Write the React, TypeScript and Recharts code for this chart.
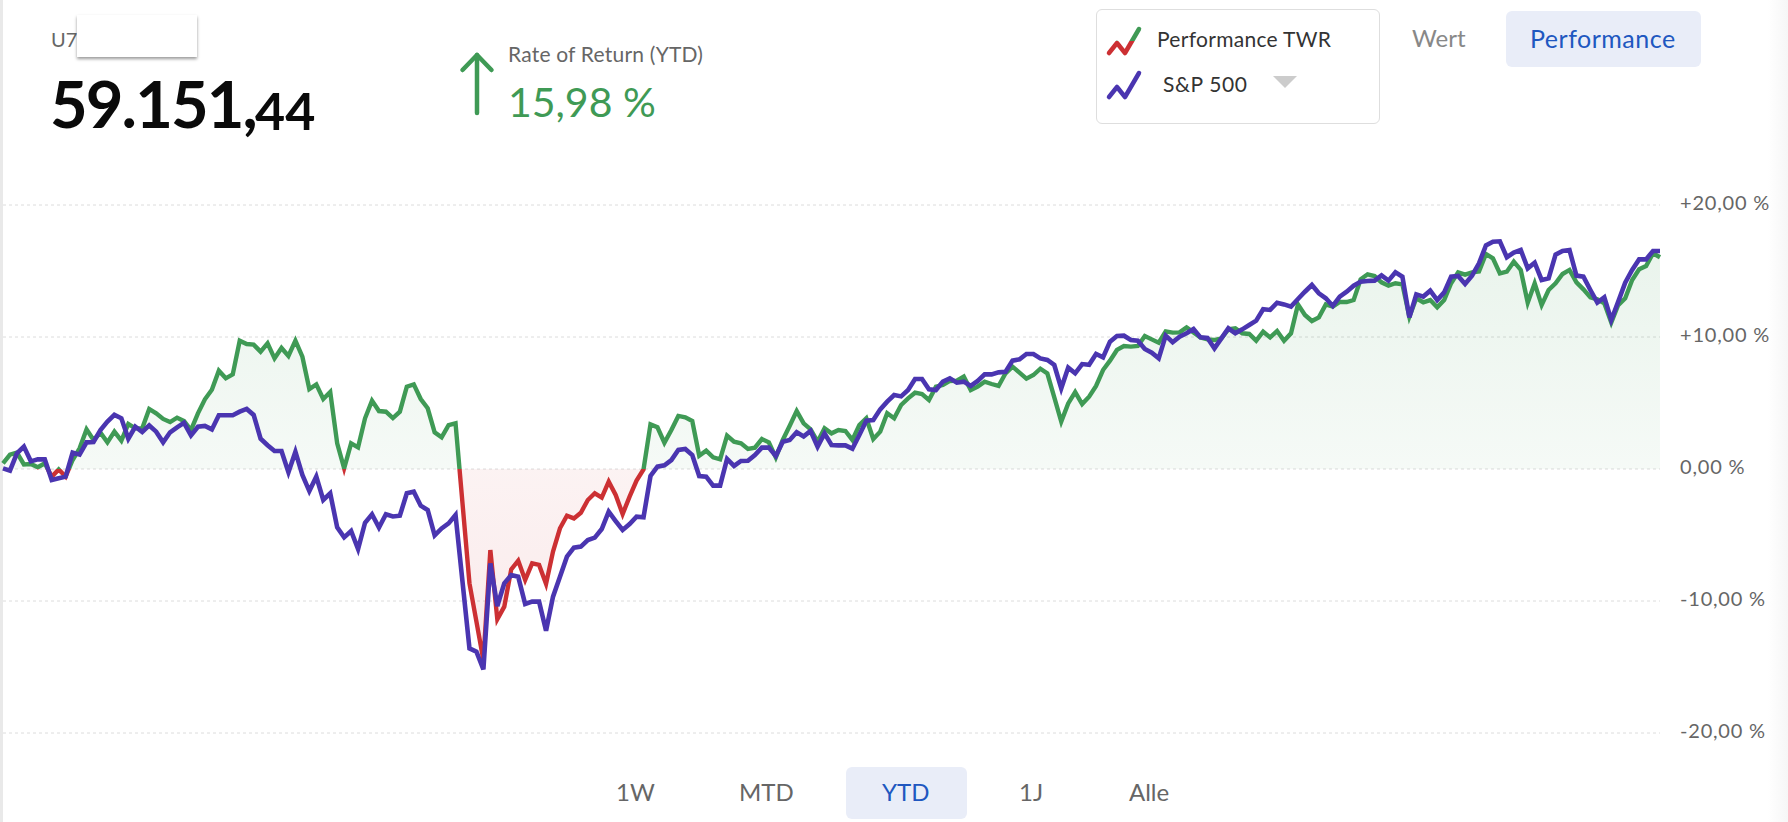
import { Area, CartesianGrid, ComposedChart, Line, XAxis, YAxis } from "recharts";

const twrValues = [
  0.43, 1.09, 1.24, 0.35, 0.38, 0.13, 0.43, -0.58, -0.03, -0.58,
  0.68, 1.57, 3.0, 2.2, 2.75, 2.02, 2.83, 2.15, 3.41, 3.08,
  3.08, 4.55, 4.22, 3.79, 3.56, 3.89, 3.64, 2.95, 4.22, 5.28,
  6.0, 7.45, 6.87, 7.17, 9.72, 9.47, 9.42, 8.89, 9.52, 8.38,
  9.17, 8.56, 9.72, 8.51, 6.06, 6.41, 5.3, 5.83, 1.94, 0.05,
  1.94, 1.64, 3.84, 5.18, 4.39, 4.34, 3.86, 4.34, 6.24, 6.41,
  5.3, 4.6, 2.78, 2.4, 3.33, 3.46, -2.6, -8.66, -11.57, -14.47,
  -6.14, -11.39, -10.43, -7.6, -6.94, -8.41, -7.15, -7.27, -8.71, -6.26,
  -4.49, -3.54, -3.74, -3.31, -2.35, -1.84, -2.17, -0.96, -1.97, -3.41,
  -2.1, -0.88, -0.03, 3.38, 3.16, 1.99, 2.95, 4.02, 3.91, 3.64,
  1.01, 1.39, 0.88, 0.73, 2.53, 2.07, 1.94, 1.52, 1.62, 2.27,
  2.02, 0.88, 2.2, 3.28, 4.39, 3.46, 3.0, 2.07, 3.08, 2.7,
  2.95, 2.88, 2.2, 3.33, 3.84, 2.27, 2.83, 4.22, 3.84, 4.85,
  5.35, 5.78, 5.68, 5.23, 6.24, 6.36, 6.67, 6.69, 7.0, 5.98,
  6.24, 6.62, 6.44, 6.29, 7.25, 7.75, 7.3, 6.84, 7.12, 7.6,
  7.25, 5.43, 3.59, 4.97, 5.83, 4.92, 5.48, 6.29, 7.5, 8.21,
  9.02, 9.32, 9.27, 9.32, 10.08, 9.82, 9.57, 10.43, 10.33, 10.35,
  10.73, 10.35, 9.97, 9.82, 9.77, 9.9, 10.58, 10.66, 10.28, 10.23,
  9.72, 10.4, 9.97, 10.45, 9.72, 10.28, 12.47, 11.67, 11.21, 11.49,
  12.47, 12.3, 12.65, 12.65, 12.8, 14.37, 14.75, 14.62, 14.14, 13.89,
  14.07, 13.99, 11.54, 12.93, 12.63, 12.8, 12.25, 12.8, 14.07, 14.9,
  14.72, 14.9, 14.97, 16.29, 15.96, 14.82, 14.95, 15.71, 15.08, 12.6,
  14.07, 12.42, 13.56, 14.07, 14.77, 15.08, 14.14, 13.61, 13.0, 12.85,
  12.55, 11.09, 12.42, 12.93, 14.32, 15.13, 15.38, 16.34, 16.04,
];

const spxValues = [
  0.05, -0.13, 1.19, 1.7, 0.58, 0.73, 0.73, -0.83, -0.7, -0.58,
  1.24, 1.09, 2.02, 2.05, 2.95, 3.59, 4.1, 3.84, 2.3, 3.2,
  2.8, 3.3, 2.83, 2.02, 2.78, 3.16, 3.5, 2.55, 3.2, 3.26,
  3.0, 4.07, 4.07, 4.07, 4.34, 4.55, 4.1, 2.3, 1.8, 1.36,
  1.36, -0.25, 1.31, -0.45, -1.67, -0.58, -2.35, -1.84, -4.42, -5.18,
  -4.7, -6.06, -4.07, -3.43, -4.44, -3.43, -3.6, -3.54, -1.84, -1.72,
  -2.78, -3.1, -5.03, -4.5, -4.12, -3.48, -8.54, -13.59, -13.84, -15.18,
  -7.15, -10.38, -8.66, -8.03, -8.16, -10.23, -10.05, -10.05, -12.25, -9.67,
  -8.16, -6.64, -5.96, -5.88, -5.38, -5.2, -4.55, -3.23, -3.94, -4.62,
  -4.17, -3.61, -3.66, -0.53, 0.18, 0.28, 0.68, 1.44, 1.52, 1.06,
  -0.53, -0.58, -1.26, -1.26, 0.76, 0.23, 0.61, 0.63, 1.06, 1.62,
  1.62, 0.98, 2.07, 2.2, 2.78, 2.47, 2.88, 1.69, 2.7, 1.82,
  1.79, 1.79, 1.54, 2.58, 3.66, 3.71, 4.52, 5.1, 5.6, 5.5,
  5.98, 6.82, 6.82, 6.04, 5.98, 6.62, 6.87, 6.54, 6.62, 6.29,
  6.67, 7.17, 7.17, 7.32, 7.37, 8.21, 8.31, 8.71, 8.71, 8.38,
  8.26, 7.88, 6.11, 7.68, 7.25, 7.95, 7.9, 8.71, 8.46, 9.65,
  10.08, 10.1, 9.77, 9.72, 9.09, 8.81, 8.38, 10.1, 9.6, 10.03,
  10.28, 10.61, 9.97, 9.92, 9.14, 9.9, 10.66, 10.28, 10.58, 10.91,
  11.24, 12.1, 12.05, 12.6, 12.47, 12.3, 12.88, 13.43, 13.94, 13.31,
  12.93, 12.35, 13.06, 13.43, 13.89, 14.19, 14.24, 14.27, 14.67, 14.27,
  14.9, 14.57, 11.49, 13.23, 13.06, 13.51, 12.8, 13.38, 14.57, 14.62,
  14.02, 14.65, 15.58, 16.94, 17.22, 17.25, 16.04, 16.39, 16.59, 15.2,
  15.63, 14.32, 14.44, 16.24, 16.52, 16.59, 14.65, 14.57, 13.56, 12.6,
  13.0, 11.29, 12.68, 14.12, 15.08, 15.88, 15.88, 16.52, 16.52,
];

const yTicks = [20, 10, 0, -10, -20];
const rangeButtons = ["1W", "MTD", "YTD", "1J", "Alle"];
const rangeLeft = [616, 739, 882, 1019, 1129];

const data = twrValues.map((twr, i) => ({ day: i, twr, spx: spxValues[i] }));

const maxTwr = Math.max(...twrValues);
const minTwr = Math.min(...twrValues);
const zeroAt = maxTwr / (maxTwr - minTwr);

const GREEN = "#3f9a55";
const RED = "#cc3033";
const PURPLE = "#4a35b0";
const FONT = "Lato, sans-serif";

function formatTick(v: number) {
  const s = Math.abs(v).toFixed(2).replace(".", ",");
  if (v > 0) return `+${s} %`;
  if (v < 0) return `-${s} %`;
  return `${s} %`;
}

function Label({ x, cy, size, color, weight = 400, spacing = 0, children }: any) {
  return (
    <div
      style={{
        position: "absolute",
        left: x,
        top: cy - size / 2,
        fontSize: size,
        lineHeight: `${size}px`,
        color,
        fontWeight: weight,
        letterSpacing: spacing,
        whiteSpace: "nowrap",
      }}
    >
      {children}
    </div>
  );
}

function Zigzag({ id, y, top, bottom }: { id: string; y: number; top: string; bottom: string }) {
  return (
    <svg style={{ position: "absolute", left: 1104, top: y, overflow: "visible" }} width={40} height={32}>
      <defs>
        <linearGradient id={id} gradientUnits="userSpaceOnUse" x1="0" y1="0" x2="0" y2="32">
          <stop offset="50%" stopColor={top} />
          <stop offset="50%" stopColor={bottom} />
        </linearGradient>
      </defs>
      <polyline
        points="5,28 13,18 21,28 35,4"
        fill="none"
        stroke={`url(#${id})`}
        strokeWidth={4.5}
        strokeLinecap="round"
        strokeLinejoin="round"
      />
    </svg>
  );
}

export default function App() {
  return (
    <div
      style={{
        position: "absolute",
        left: 0,
        top: 0,
        width: 1788,
        height: 822,
        background: "#fff",
        overflow: "hidden",
        fontFamily: FONT,
      }}
    >
      <div style={{ position: "absolute", left: 0, top: 0, width: 3, height: 822, background: "#e9e9e9" }} />
      <div
        style={{
          position: "absolute",
          left: 1768,
          top: 0,
          width: 20,
          height: 822,
          background: "linear-gradient(90deg, #ffffff, #f6f6f6)",
        }}
      />

      <ComposedChart
        width={1788}
        height={822}
        data={data}
        margin={{ top: 205, right: 0, bottom: 89, left: 3 }}
        style={{ position: "absolute", left: 0, top: 0 }}
      >
        <defs>
          <linearGradient id="twrStroke" x1="0" y1="0" x2="0" y2="1">
            <stop offset={zeroAt} stopColor={GREEN} />
            <stop offset={zeroAt} stopColor={RED} />
          </linearGradient>
          <linearGradient id="twrFill" x1="0" y1="0" x2="0" y2="1">
            <stop offset={0} stopColor={GREEN} stopOpacity={0.11} />
            <stop offset={zeroAt} stopColor={GREEN} stopOpacity={0.05} />
            <stop offset={zeroAt} stopColor={RED} stopOpacity={0.06} />
            <stop offset={1} stopColor={RED} stopOpacity={0.1} />
          </linearGradient>
        </defs>
        <CartesianGrid vertical={false} stroke="#dcdcdc" strokeDasharray="3 3" />
        <XAxis dataKey="day" hide />
        <YAxis
          orientation="right"
          width={128}
          domain={[-20, 20]}
          ticks={yTicks}
          interval={0}
          axisLine={false}
          tickLine={false}
          tickMargin={14}
          tickFormatter={formatTick}
          tick={{ fill: "#666666", fontSize: 20, fontFamily: FONT, letterSpacing: 0.8, dy: -2 }}
        />
        <Area
          dataKey="twr"
          type="linear"
          baseValue={0}
          stroke="url(#twrStroke)"
          strokeWidth={4.4}
          fill="url(#twrFill)"
          fillOpacity={1}
          dot={false}
          activeDot={false}
          isAnimationActive={false}
        />
        <Line
          dataKey="spx"
          type="linear"
          stroke={PURPLE}
          strokeWidth={4.6}
          dot={false}
          activeDot={false}
          isAnimationActive={false}
        />
      </ComposedChart>

      <Label x={51} cy={39} size={20} color="#666">U7</Label>
      <div
        style={{
          position: "absolute",
          left: 77,
          top: 15,
          width: 120,
          height: 42,
          background: "#fff",
          boxShadow: "0 2px 3px rgba(0,0,0,0.4)",
        }}
      />
      <Label x={50} cy={103} size={65} color="#0a0a0a" weight={700} spacing={-1.9}>59.151,</Label>
      <Label x={255} cy={110} size={52} color="#0a0a0a" weight={700} spacing={0}>44</Label>

      <svg style={{ position: "absolute", left: 455, top: 48 }} width={44} height={72}>
        <polyline
          points="7.5,22 22,7 36.5,22"
          fill="none"
          stroke={GREEN}
          strokeWidth={4.5}
          strokeLinecap="round"
          strokeLinejoin="round"
        />
        <line x1={22} y1={7} x2={22} y2={65} stroke={GREEN} strokeWidth={4.5} strokeLinecap="round" />
      </svg>
      <Label x={508} cy={53} size={21} color="#666" spacing={0.2}>Rate of Return (YTD)</Label>
      <Label x={508} cy={101} size={41} color={GREEN}>15,98 %</Label>

      <div
        style={{
          position: "absolute",
          left: 1096,
          top: 9,
          width: 282,
          height: 113,
          border: "1px solid #dedede",
          borderRadius: 6,
          background: "#fff",
        }}
      />
      <Zigzag id="iconTwr" y={25} top={GREEN} bottom={RED} />
      <Zigzag id="iconSpx" y={69} top={PURPLE} bottom={PURPLE} />
      <Label x={1157} cy={38} size={21} color="#333" spacing={0.3}>Performance TWR</Label>
      <Label x={1163} cy={83} size={21} color="#333" spacing={0.6}>S&amp;P 500</Label>
      <svg style={{ position: "absolute", left: 1273, top: 76 }} width={24} height={12}>
        <polygon points="0,0 24,0 12,12" fill="#cccccc" />
      </svg>

      <Label x={1412} cy={38} size={24} color="#888">Wert</Label>
      <div
        style={{
          position: "absolute",
          left: 1506,
          top: 11,
          width: 195,
          height: 56,
          borderRadius: 6,
          background: "#e9edf8",
        }}
      />
      <Label x={1530} cy={38} size={25} color="#2057c0" spacing={0.5}>Performance</Label>

      <div
        style={{
          position: "absolute",
          left: 846,
          top: 767,
          width: 121,
          height: 52,
          borderRadius: 6,
          background: "#e9edf8",
        }}
      />
      {rangeButtons.map((b, i) => (
        <Label key={b} x={rangeLeft[i]} cy={792} size={24} color={b === "YTD" ? "#2057c0" : "#666"}>
          {b}
        </Label>
      ))}
    </div>
  );
}
